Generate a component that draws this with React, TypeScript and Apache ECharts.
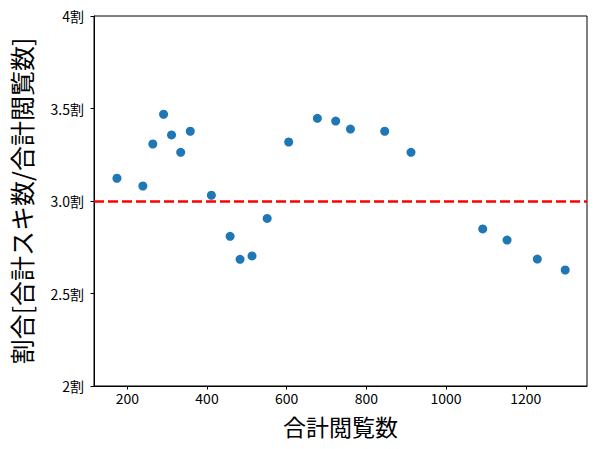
import React, { useEffect, useRef } from "react";
import * as echarts from "echarts";

const views = [174, 239, 264, 291, 311, 334, 358, 411, 458, 483, 513, 551, 605, 677, 723, 760, 846, 912, 1092, 1153, 1229, 1299];
const ratios = [3.123, 3.081, 3.308, 3.469, 3.357, 3.263, 3.377, 3.031, 2.809, 2.685, 2.703, 2.906, 3.319, 3.447, 3.432, 3.389, 3.377, 3.263, 2.849, 2.789, 2.686, 2.627];
const xTicks = [200, 400, 600, 800, 1000, 1200];
const yTicks = [2, 2.5, 3, 3.5, 4];
const yTickLabels = ["2割", "2.5割", "3.0割", "3.5割", "4割"];
const refLine = 3.0;

const FONT = "'Noto Sans CJK JP', 'DejaVu Sans', sans-serif";

export default function App() {
  const ref = useRef<HTMLDivElement>(null);
  useEffect(() => {
    if (!ref.current) return;
    const chart = echarts.init(ref.current, null, { renderer: "svg" });
    chart.setOption({
      animation: false,
      backgroundColor: "#ffffff",
      textStyle: { fontFamily: FONT },
      grid: {
        left: 91,
        right: 10,
        top: 16,
        bottom: 63,
        show: true,
        borderColor: "#000",
        borderWidth: 1,
        containLabel: false,
      },
      xAxis: {
        type: "value",
        min: 116.4,
        max: 1353.7,
        name: "合計閲覧数",
        nameLocation: "middle",
        nameGap: 28,
        nameTextStyle: { fontSize: 23, color: "#000", fontFamily: FONT, verticalAlign: "top", lineHeight: 23 },
        axisLine: { show: true, lineStyle: { color: "#000", width: 1 } },
        axisTick: { show: true, length: 3.5, lineStyle: { color: "#000" }, customValues: xTicks },
        axisLabel: {
          color: "#000",
          fontSize: 14,
          lineHeight: 14,
          margin: 5,
          fontFamily: FONT,
          customValues: xTicks,
          formatter: (v: number) => String(v),
        },
        splitLine: { show: false },
      },
      yAxis: {
        type: "value",
        min: 2,
        max: 4,
        interval: 0.5,
        name: "割合[合計スキ数/合計閲覧数]",
        nameLocation: "middle",
        nameGap: 61,
        nameTextStyle: { fontSize: 25, color: "#000", fontFamily: FONT },
        axisLine: { show: true, lineStyle: { color: "#000", width: 1 } },
        axisTick: { show: true, length: 3.5, lineStyle: { color: "#000" } },
        axisLabel: {
          color: "#000",
          fontSize: 14,
          margin: 10,
          fontFamily: FONT,
          formatter: (v: number) => {
            const i = yTicks.findIndex((t) => Math.abs(t - v) < 1e-9);
            return i >= 0 ? yTickLabels[i] : "";
          },
        },
        splitLine: { show: false },
      },
      series: [
        {
          type: "scatter",
          data: views.map((x, i) => [x, ratios[i]]),
          symbolSize: 9,
          itemStyle: { color: "#1f77b4", opacity: 1 },
          markLine: {
            silent: true,
            symbol: "none",
            label: { show: false },
            lineStyle: { color: "red", width: 2.5, type: [10, 4] },
            data: [{ yAxis: refLine }],
          },
        },
      ],
    });
    return () => chart.dispose();
  }, []);
  return <div ref={ref} style={{ width: 597, height: 449, margin: -8 }} />;
}
